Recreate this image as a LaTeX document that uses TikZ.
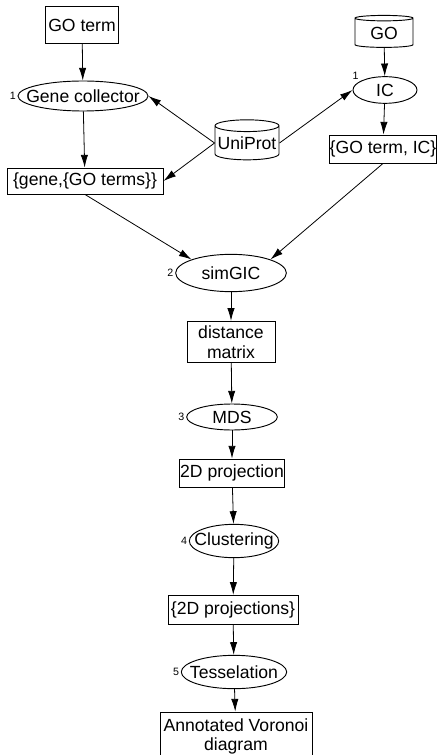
\documentclass[tikz,border=0pt]{standalone}
\usepackage{fontspec}
\setmainfont{Liberation Sans}
\usetikzlibrary{shapes.geometric,arrows.meta}
\newcommand\tightlabel[1]{\makebox[0pt]{#1}}

\begin{document}
\begin{tikzpicture}[x=0.75pt,y=-0.75pt,
    every node/.style={font=\fontsize{13.2}{15}\selectfont, line width=0.7pt},
    box/.style={draw, rectangle, inner sep=0pt, align=center},
    proc/.style={draw, ellipse, inner sep=0pt},
    db/.style={draw, cylinder, shape border rotate=90, aspect=0.2, inner sep=0pt},
    num/.style={font=\fontsize{8}{9}\selectfont, inner sep=1pt},
    flow/.style={-{Latex[length=9.5pt,width=5.5pt]}, line width=0.6pt}]
    \useasboundingbox (0,0) rectangle (443,755);
    \node[box, minimum width=55pt, minimum height=28pt] (goterm) at (82,25) {GO term};
    \node[proc, minimum width=97.5pt, minimum height=22.5pt, label={[num]left:1}] (genecol) at (83,96) {\tightlabel{Gene collector}};
    \node[box, minimum width=117pt, minimum height=19.5pt] (genego) at (85,181) {\{gene,\{GO terms\}\}};
    \node[db, minimum width=43.5pt, minimum height=24pt] (go) at (384,33) {GO};
    \node[db, minimum width=48pt, minimum height=30pt] (uniprot) at (247,143) {UniProt};
    \node[proc, minimum width=48pt, minimum height=20pt, label={[num]160:1}] (ic) at (385,90) {\tightlabel{IC}};
    \node[box, minimum width=80pt, minimum height=21pt] (goic) at (383,149) {\{GO term, IC\}};
    \node[proc, minimum width=83pt, minimum height=28pt, label={[num]left:2}] (simgic) at (231,273) {\tightlabel{simGIC}};
    \node[box, minimum width=66pt, minimum height=31pt] (dist) at (231,342) {distance\\matrix};
    \node[proc, minimum width=68pt, minimum height=19.5pt, label={[num]left:3}] (mds) at (232,417) {\tightlabel{MDS}};
    \node[box, minimum width=79pt, minimum height=21pt] (proj) at (232,473) {2D projection};
    \node[proc, minimum width=67pt, minimum height=25pt, label={[num]left:4}] (clust) at (234,541) {\tightlabel{Clustering}};
    \node[box, minimum width=97.5pt, minimum height=22pt] (projs) at (233,610) {\{2D projections\}};
    \node[proc, minimum width=79pt, minimum height=25pt, label={[num]left:5}] (tess) at (234,672) {\tightlabel{Tesselation}};
    \node[box, minimum width=114pt, minimum height=36pt, font=\fontsize{13.2}{14.2}\selectfont] (vor) at (236,736) {Annotated Voronoi\\diagram};

    \draw[flow] (goterm) -- (genecol);
    \draw[flow] (genecol) -- (genego);
    \draw[flow] (uniprot.west) -- (genecol.east);
    \draw[flow] (uniprot.west) -- (genego.east);
    \draw[flow] (uniprot.east) -- (ic.west);
    \draw[flow] (go) -- (ic);
    \draw[flow] (ic) -- (goic);
    \draw[flow] (genego.south) -- (simgic.north west);
    \draw[flow] (goic.south) -- (simgic.north east);
    \draw[flow] (simgic) -- (dist);
    \draw[flow] (dist) -- (mds);
    \draw[flow] (mds) -- (proj);
    \draw[flow] (proj) -- (clust);
    \draw[flow] (clust) -- (projs);
    \draw[flow] (projs) -- (tess);
    \draw[flow] (tess) -- (vor);
\end{tikzpicture}
\end{document}
